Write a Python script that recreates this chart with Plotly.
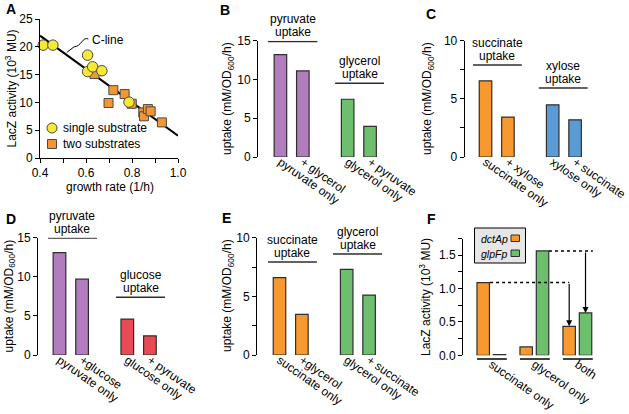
import plotly.graph_objects as go

W, H = 629, 414
FONT = "Liberation Sans, Arial, sans-serif"

# ---------------- data ----------------
# Panel A
single_growth = [0.414, 0.456, 0.607, 0.607, 0.629, 0.669, 0.787]
single_lacz = [20.3, 20.3, 18.5, 15.55, 16.4, 15.7, 10.05]
two_growth = [0.637, 0.719, 0.768, 0.698, 0.799, 0.849, 0.852, 0.869, 0.881, 0.930]
two_lacz = [15.1, 12.2, 11.5, 9.9, 9.75, 8.2, 7.5, 8.8, 8.4, 6.4]
cline_growth = [0.40, 1.00]
cline_lacz = [22.0, 4.0]

# Panels B-E (bar positions 0,1 | 3,4)
bar_pos = [0, 1, 3, 4]
b_labels = ["pyruvate only", "+ glycerol", "glycerol only", "+ pyruvate"]
b_values = [13.2, 11.1, 7.45, 3.95]
c_labels = ["succinate only", "+ xylose", "xylose only", "+ succinate"]
c_values = [6.55, 3.43, 4.49, 3.2]
d_labels = ["pyruvate only", "+glucose", "glucose only", "+ pyruvate"]
d_values = [13.1, 9.7, 4.6, 2.45]
e_labels = ["succinate only", "+glycerol", "glycerol only", "+ succinate"]
e_values = [6.59, 3.47, 7.3, 5.11]

# Panel F
f_groups = ["succinate only", "glycerol only", "both"]
f_dcta = [1.09, 0.125, 0.435]
f_glpf = [0.01, 1.565, 0.635]

# ---------------- styles ----------------
PURPLE = "#b27cbf"
GREEN = "#6dbf6e"
ORANGE = "#f7992f"
BLUE = "#5b9bd5"
RED = "#e94b55"
YELLOW = "#f5e934"
SQORANGE = "#f49632"
EDGE = "#2e2e2e"


def dom_x(a, b):
    return [a / W, b / W]


def dom_y(top, bot):
    return [1 - bot / H, 1 - top / H]


def px(x):
    return x / W


def py(y):
    return 1 - y / H


fig = go.Figure()

# Panel A traces
fig.add_trace(go.Scatter(x=cline_growth, y=cline_lacz, mode="lines",
                         line=dict(color="black", width=2),
                         xaxis="x", yaxis="y", showlegend=False, cliponaxis=False))
fig.add_trace(go.Scatter(x=two_growth, y=two_lacz, mode="markers",
                         marker=dict(symbol="square", size=9, color=SQORANGE,
                                     line=dict(color="#4a4a4a", width=1)),
                         xaxis="x", yaxis="y", showlegend=False, cliponaxis=False))
fig.add_trace(go.Scatter(x=single_growth, y=single_lacz, mode="markers",
                         marker=dict(symbol="circle", size=10.5, color=YELLOW,
                                     line=dict(color="#4a4a4a", width=1)),
                         xaxis="x", yaxis="y", showlegend=False, cliponaxis=False))

# Bars B-E
panels = [
    ("x2", "y2", b_labels, b_values, [PURPLE, PURPLE, GREEN, GREEN]),
    ("x3", "y3", c_labels, c_values, [ORANGE, ORANGE, BLUE, BLUE]),
    ("x4", "y4", d_labels, d_values, [PURPLE, PURPLE, RED, RED]),
    ("x5", "y5", e_labels, e_values, [ORANGE, ORANGE, GREEN, GREEN]),
]
for xa, ya, labs, vals, cols in panels:
    fig.add_trace(go.Bar(x=bar_pos, y=vals, width=0.56, marker=dict(color=cols, line=dict(color=EDGE, width=1.2)),
                         xaxis=xa, yaxis=ya, showlegend=False))

# Panel F grouped bars
f_pos = list(range(len(f_groups)))
fig.add_trace(go.Bar(x=f_pos, y=f_dcta, width=0.29, offset=-0.335,
                     marker=dict(color=ORANGE, line=dict(color=EDGE, width=1.2)),
                     xaxis="x6", yaxis="y6", showlegend=False))
fig.add_trace(go.Bar(x=f_pos, y=f_glpf, width=0.29, offset=0.045,
                     marker=dict(color=GREEN, line=dict(color=EDGE, width=1.2)),
                     xaxis="x6", yaxis="y6", showlegend=False))

# ---------------- axes ----------------
tickfont = dict(size=12, color="black", family=FONT)
yax = dict(showline=True, linecolor="black", linewidth=1, ticks="outside", ticklen=4,
           tickwidth=1, tickcolor="black", showgrid=False, zeroline=False, tickfont=tickfont,
           automargin=False)
xcat = dict(showline=False, ticks="", showgrid=False, zeroline=False, tickangle=35,
            tickfont=tickfont, tickmode="array", automargin=False)

layout = dict(
    template="none",
    width=W, height=H, margin=dict(l=0, r=0, t=0, b=0, pad=0),
    paper_bgcolor="white", plot_bgcolor="white",
    font=dict(family=FONT, size=12, color="black"),
    barmode="overlay", showlegend=False,
    xaxis=dict(domain=dom_x(40, 178), range=[0.4, 1.0], anchor="y", showline=True,
               linecolor="black", linewidth=1, ticks="outside", ticklen=4, tickcolor="black",
               tick0=0.4, dtick=0.2, tickformat=".1f", showgrid=False, zeroline=False,
               tickfont=tickfont, automargin=False,
               minor=dict(dtick=0.1, ticks="outside", ticklen=4, tickcolor="black", showgrid=False)),
    yaxis=dict(domain=dom_y(19, 158), range=[0, 25], anchor="x", dtick=5, **yax),
    xaxis2=dict(domain=dom_x(258, 388), range=[-1.0, 4.8], anchor="y2",
                tickvals=bar_pos, ticktext=b_labels, ticklabelstandoff=-5, **xcat),
    yaxis2=dict(domain=dom_y(40.7, 157), range=[0, 15], anchor="x2", dtick=5, **yax),
    xaxis3=dict(domain=dom_x(464.7, 593), range=[-0.93, 4.8], anchor="y3",
                tickvals=bar_pos, ticktext=c_labels, ticklabelstandoff=-5, **xcat),
    yaxis3=dict(domain=dom_y(40.7, 157), range=[0, 10], anchor="x3", dtick=5,
                minor=dict(dtick=2.5, ticks="outside", ticklen=4, tickcolor="black", showgrid=False), **yax),
    xaxis4=dict(domain=dom_x(38, 168), range=[-0.95, 4.8], anchor="y4",
                tickvals=bar_pos, ticktext=d_labels, ticklabelstandoff=-5, **xcat),
    yaxis4=dict(domain=dom_y(237.7, 355), range=[0, 15], anchor="x4", dtick=5, **yax),
    xaxis5=dict(domain=dom_x(257.1, 387), range=[-1.0, 4.8], anchor="y5",
                tickvals=bar_pos, ticktext=e_labels, ticklabelstandoff=-5, **xcat),
    yaxis5=dict(domain=dom_y(237.7, 355), range=[0, 10], anchor="x5", dtick=5,
                minor=dict(dtick=2.5, ticks="outside", ticklen=4, tickcolor="black", showgrid=False), **yax),
    xaxis6=dict(domain=dom_x(463, 596.7), range=[-0.66, 2.45], anchor="y6",
                tickvals=f_pos, ticktext=f_groups, ticklabelstandoff=-1, **xcat),
    yaxis6=dict(domain=dom_y(238.6, 355.3), range=[0, 1.75], anchor="x6", dtick=0.5,
                tickformat=".1f",
                minor=dict(dtick=0.25, ticks="outside", ticklen=4, tickcolor="black", showgrid=False), **yax),
)
fig.update_layout(**layout)

shapes = []
annotations = []

# Panel letters
for letter, x, y in [("A", 11, 9.5), ("B", 225, 10), ("C", 431, 13.5),
                     ("D", 11, 219), ("E", 226, 218), ("F", 431, 219)]:
    annotations.append(dict(text="<b>%s</b>" % letter, x=px(x), y=py(y), xref="paper", yref="paper",
                            showarrow=False, xanchor="center", yanchor="middle",
                            font=dict(size=14, color="black")))

# Axis titles (vertical)
upt = "uptake (mM/OD<sub>600</sub>/h)"
lacz = "LacZ activity (10<sup>3</sup> MU)"
for text, x, y in [(lacz, 10, 88.5), (upt, 228, 99), (upt, 428, 99),
                   (upt, 9.5, 296), (upt, 228, 296), (lacz, 425, 297)]:
    annotations.append(dict(text=text, x=px(x), y=py(y), xref="paper", yref="paper", textangle=-90,
                            showarrow=False, xanchor="center", yanchor="middle", font=dict(size=12)))

# Panel A x title
annotations.append(dict(text="growth rate (1/h)", x=px(110), y=py(186.5), xref="paper", yref="paper",
                        showarrow=False, xanchor="center", yanchor="middle", font=dict(size=12)))

# Panel A legend
shapes.append(dict(type="circle", xref="paper", yref="paper", x0=px(47), x1=px(57), y0=py(133), y1=py(123),
                   fillcolor=YELLOW, line=dict(color="#4a4a4a", width=1)))
shapes.append(dict(type="rect", xref="paper", yref="paper", x0=px(47.5), x1=px(56.5), y0=py(148.5), y1=py(139.5),
                   fillcolor=SQORANGE, line=dict(color="#4a4a4a", width=1)))
annotations.append(dict(text="single substrate", x=px(61), y=py(128), xref="paper", yref="paper",
                        showarrow=False, xanchor="left", yanchor="middle", font=dict(size=12)))
annotations.append(dict(text="two substrates", x=px(61), y=py(144), xref="paper", yref="paper",
                        showarrow=False, xanchor="left", yanchor="middle", font=dict(size=12)))

# C-line label
annotations.append(dict(text="C-line", x=0.617, y=21.3, xref="x", yref="y", showarrow=False,
                        xanchor="left", yanchor="middle", font=dict(size=12)))
shapes.append(dict(type="path", xref="x", yref="y",
                   path="M 0.610,21.4 C 0.585,21.9 0.580,20.0 0.548,20.0 L 0.517,19.0",
                   line=dict(color="black", width=1)))

# Headers over bar groups
headers = [
    ("x2", "y2", -0.55, 1.65, 14.9, "pyruvate"),
    ("x2", "y2", 2.44, 4.62, 9.5, "glycerol"),
    ("x3", "y3", -0.56, 1.62, 7.9, "succinate"),
    ("x3", "y3", 2.38, 4.56, 5.93, "xylose"),
    ("x4", "y4", -0.51, 1.66, 14.95, "pyruvate"),
    ("x4", "y4", 2.50, 4.67, 7.4, "glucose"),
    ("x5", "y5", -0.51, 1.67, 7.93, "succinate"),
    ("x5", "y5", 2.39, 4.58, 8.6, "glycerol"),
]
for xa, ya, x0, x1, yv, word in headers:
    shapes.append(dict(type="line", xref=xa, yref=ya, x0=x0, x1=x1, y0=yv, y1=yv,
                       line=dict(color=EDGE, width=1.5)))
    xc = (x0 + x1) / 2
    annotations.append(dict(text="uptake", x=xc, y=yv, xref=xa, yref=ya, showarrow=False,
                            xanchor="center", yanchor="middle", yshift=9, font=dict(size=12)))
    annotations.append(dict(text=word, x=xc, y=yv, xref=xa, yref=ya, showarrow=False,
                            xanchor="center", yanchor="middle", yshift=22, font=dict(size=12)))

# Panel F: group baselines
for c in f_pos:
    shapes.append(dict(type="line", xref="x6", yref="paper", x0=c - 0.335, x1=c + 0.36,
                       y0=py(359), y1=py(359), line=dict(color="black", width=1.5)))

# Panel F dotted references and arrows
shapes.append(dict(type="line", xref="x6", yref="y6", x0=-0.03, x1=1.81, y0=f_dcta[0], y1=f_dcta[0],
                   line=dict(color="black", width=1.5, dash="dot")))
shapes.append(dict(type="line", xref="x6", yref="y6", x0=1.34, x1=2.36, y0=f_glpf[1], y1=f_glpf[1],
                   line=dict(color="black", width=1.5, dash="dot")))
annotations.append(dict(x=1.81, y=f_dcta[2], ax=1.81, ay=f_dcta[0], xref="x6", yref="y6",
                        axref="x6", ayref="y6", text="", showarrow=True, arrowhead=2,
                        arrowsize=1, arrowwidth=1.2, arrowcolor="black", standoff=0))
annotations.append(dict(x=2.19, y=f_glpf[2], ax=2.19, ay=f_glpf[1], xref="x6", yref="y6",
                        axref="x6", ayref="y6", text="", showarrow=True, arrowhead=2,
                        arrowsize=1, arrowwidth=1.2, arrowcolor="black", standoff=0))

# Panel F legend
shapes.append(dict(type="rect", xref="paper", yref="paper", x0=px(474.5), x1=px(525.5), y0=py(263), y1=py(228),
                   fillcolor="#e6e6e6", line=dict(color="black", width=1), layer="above"))
shapes.append(dict(type="rect", xref="paper", yref="paper", x0=px(511), x1=px(519.5), y0=py(241.5), y1=py(235),
                   fillcolor=ORANGE, line=dict(color=EDGE, width=1), layer="above"))
shapes.append(dict(type="rect", xref="paper", yref="paper", x0=px(511), x1=px(519.5), y0=py(256.5), y1=py(250),
                   fillcolor=GREEN, line=dict(color=EDGE, width=1), layer="above"))
annotations.append(dict(text="<i>dctAp</i>", x=px(479), y=py(238.5), xref="paper", yref="paper",
                        showarrow=False, xanchor="left", yanchor="middle", font=dict(size=10.5)))
annotations.append(dict(text="<i>glpFp</i>", x=px(479), y=py(253.5), xref="paper", yref="paper",
                        showarrow=False, xanchor="left", yanchor="middle", font=dict(size=10.5)))

fig.update_layout(shapes=shapes, annotations=annotations)
fig.write_html("out.html", config={"displayModeBar": False},
               post_script="document.body.style.margin='0px';document.body.style.overflow='hidden';")
